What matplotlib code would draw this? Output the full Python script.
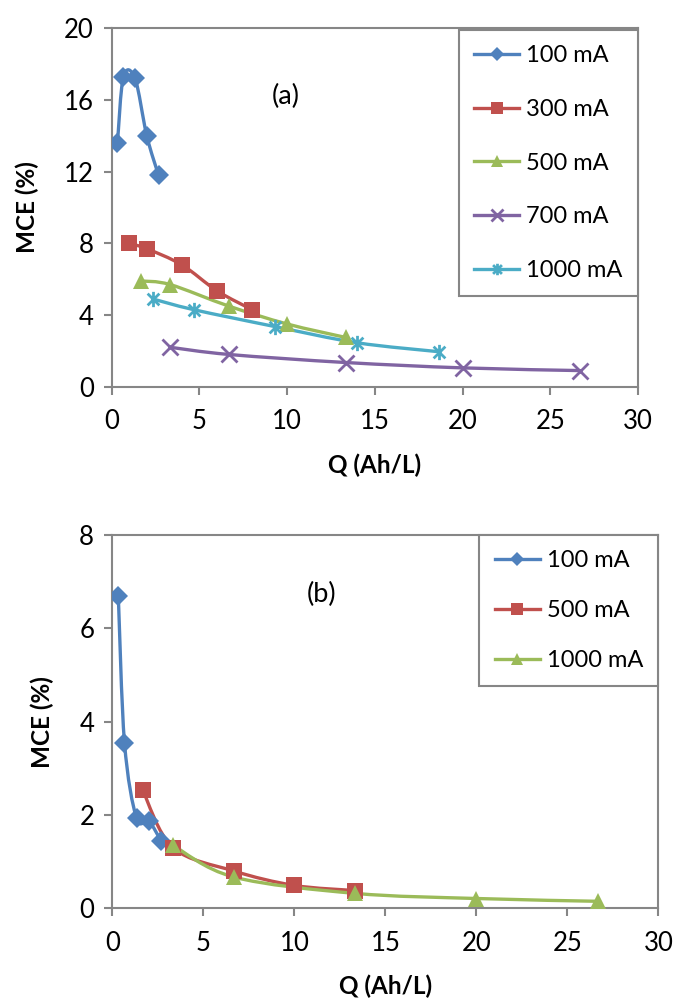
import matplotlib.pyplot as plt
from matplotlib.path import Path
from matplotlib.patches import PathPatch
from matplotlib.lines import Line2D

plt.rcParams['font.family'] = ['Lato', 'DejaVu Sans']

# Panel (a): Q (Ah/L) und MCE (%)
q_a_100 = [0.33, 0.67, 1.33, 2.0, 2.67]
mce_a_100 = [13.6, 17.3, 17.2, 14.0, 11.8]
q_a_300 = [1.0, 2.0, 4.0, 6.0, 8.0]
mce_a_300 = [8.0, 7.7, 6.8, 5.35, 4.3]
q_a_500 = [1.67, 3.33, 6.67, 10.0, 13.33]
mce_a_500 = [5.9, 5.7, 4.5, 3.5, 2.75]
q_a_700 = [3.33, 6.67, 13.33, 20.0, 26.67]
mce_a_700 = [2.2, 1.8, 1.35, 1.05, 0.9]
q_a_1000 = [2.33, 4.67, 9.33, 14.0, 18.67]
mce_a_1000 = [4.9, 4.3, 3.35, 2.45, 1.95]

# Panel (b)
q_b_100 = [0.33, 0.67, 1.33, 2.0, 2.67]
mce_b_100 = [6.7, 3.55, 1.93, 1.87, 1.45]
q_b_500 = [1.67, 3.33, 6.67, 10.0, 13.33]
mce_b_500 = [2.53, 1.3, 0.8, 0.49, 0.38]
q_b_1000 = [3.33, 6.67, 13.33, 20.0, 26.67]
mce_b_1000 = [1.35, 0.67, 0.32, 0.21, 0.15]

labels_a = ['100 mA', '300 mA', '500 mA', '700 mA', '1000 mA']
labels_b = ['100 mA', '500 mA', '1000 mA']

BLUE, RED, GREEN, PURPLE, CYAN = '#4F81BD', '#C0504D', '#9BBB59', '#8064A2', '#4BACC6'
GRAY = '#868686'

# Stern-Marker wie in Excel (x + senkrechter Strich)
star = Path([(-1, -1), (1, 1), (-1, 1), (1, -1), (0, -1.3), (0, 1.3)],
            [Path.MOVETO, Path.LINETO, Path.MOVETO, Path.LINETO, Path.MOVETO, Path.LINETO])


def smooth(ax, xs, ys, color):
    # geglaettete Linie (Catmull-Rom als Bezier-Pfad)
    pts = list(zip(xs, ys))
    verts = [pts[0]]
    codes = [Path.MOVETO]
    n = len(pts)
    for i in range(n - 1):
        p0 = pts[max(i - 1, 0)]
        p1 = pts[i]
        p2 = pts[i + 1]
        p3 = pts[min(i + 2, n - 1)]
        c1 = (p1[0] + (p2[0] - p0[0]) / 6, p1[1] + (p2[1] - p0[1]) / 6)
        c2 = (p2[0] - (p3[0] - p1[0]) / 6, p2[1] - (p3[1] - p1[1]) / 6)
        verts += [c1, c2, p2]
        codes += [Path.CURVE4] * 3
    ax.add_patch(PathPatch(Path(verts, codes), fill=False, edgecolor=color,
                           linewidth=2.4, capstyle='round', joinstyle='round', zorder=3))


def series(ax, xs, ys, color, marker, ms, label):
    smooth(ax, xs, ys, color)
    kw = dict(color=color, linestyle='none', marker=marker, markersize=ms, zorder=4)
    if marker in ('x',) or marker is star:
        kw.update(markeredgewidth=2.0, markeredgecolor=color)
    else:
        kw.update(markeredgewidth=0)
    ax.plot(xs, ys, **kw)
    h_kw = {k: v for k, v in kw.items() if k != 'linestyle'}
    h_kw['markersize'] = ms * 0.75
    return Line2D([], [], linestyle='-', linewidth=2.4, label=label, **h_kw)


def style(ax, ymax, ystep):
    ax.set_xlim(0, 30)
    ax.set_ylim(0, ymax)
    ax.set_xticks(range(0, 31, 5))
    ax.set_yticks(range(0, ymax + 1, ystep))
    for s in ax.spines.values():
        s.set_color(GRAY)
        s.set_linewidth(1.5)
    ax.tick_params(direction='out', length=6, width=1.5, color=GRAY, labelsize=18.5)
    ax.tick_params(axis='x', pad=10)
    ax.tick_params(axis='y', pad=7)
    ax.set_xlabel('Q (Ah/L)', fontsize=17.5, fontweight='bold', labelpad=14)
    ax.set_ylabel('MCE (%)', fontsize=17.5, fontweight='bold', labelpad=18)


fig = plt.figure(figsize=(6.74, 10), dpi=100)
ax1 = fig.add_axes([0.1657, 0.6133, 0.7809, 0.3584])
ax2 = fig.add_axes([0.1666, 0.0917, 0.8104, 0.3733])

h = []
h.append(series(ax1, q_a_100, mce_a_100, BLUE, 'D', 10, labels_a[0]))
h.append(series(ax1, q_a_300, mce_a_300, RED, 's', 11, labels_a[1]))
h.append(series(ax1, q_a_500, mce_a_500, GREEN, '^', 12, labels_a[2]))
h.append(series(ax1, q_a_700, mce_a_700, PURPLE, 'x', 11, labels_a[3]))
h.append(series(ax1, q_a_1000, mce_a_1000, CYAN, star, 11, labels_a[4]))
style(ax1, 20, 4)
ax1.text(9.9, 16.2, '(a)', fontsize=19.5, ha='center', va='center')
leg = ax1.legend(handles=h, loc='upper right', bbox_to_anchor=(1.0, 0.995), borderaxespad=0,
                 fontsize=17, frameon=True, fancybox=False, edgecolor=GRAY, framealpha=1,
                 handlelength=1.9, handletextpad=0.3, labelspacing=1.38, borderpad=0.65)
leg.get_frame().set_linewidth(1.5)

h = []
h.append(series(ax2, q_b_100, mce_b_100, BLUE, 'D', 10, labels_b[0]))
h.append(series(ax2, q_b_500, mce_b_500, RED, 's', 11, labels_b[1]))
h.append(series(ax2, q_b_1000, mce_b_1000, GREEN, '^', 12, labels_b[2]))
style(ax2, 8, 2)
ax2.text(11.5, 6.72, '(b)', fontsize=19.5, ha='center', va='center')
leg = ax2.legend(handles=h, loc='upper right', bbox_to_anchor=(1.0, 1.0), borderaxespad=0,
                 fontsize=17, frameon=True, fancybox=False, edgecolor=GRAY, framealpha=1,
                 handlelength=1.9, handletextpad=0.3, labelspacing=1.22, borderpad=0.65)
leg.get_frame().set_linewidth(1.5)

plt.savefig('out.png', dpi=100)
plt.close()
